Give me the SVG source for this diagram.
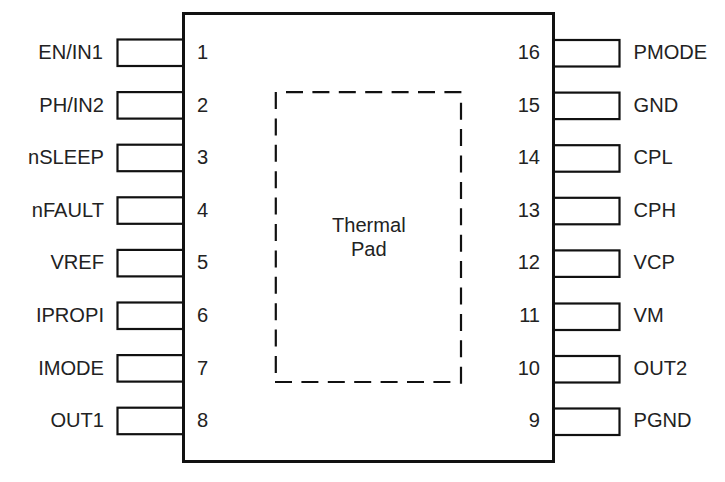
<svg xmlns="http://www.w3.org/2000/svg" width="725" height="482" viewBox="0 0 725 482">
<style>
text{font-family:"Liberation Sans",Arial,sans-serif;font-size:20.1px;fill:#222}
.p{fill:none;stroke:#111;stroke-width:2.2}
.b{fill:#fff;stroke:#111;stroke-width:3}
.d{fill:none;stroke:#111;stroke-width:2.2;stroke-dasharray:17 9.4}
.r{text-anchor:end}
.m{text-anchor:middle}
</style>
<rect width="725" height="482" fill="#fff"/>
<g id="body"><rect class="b" x="183.500" y="13.500" width="370" height="448"/></g>
<g id="pins-left">
<g id="pin1"><rect class="p" x="117.500" y="39.500" width="66" height="26.500"/><text class="r" x="103" y="59">EN/IN1</text><text class="m" x="202.500" y="59">1</text></g>
<g id="pin2"><rect class="p" x="117.500" y="92.100" width="66" height="26.500"/><text class="r" x="104" y="111.600">PH/IN2</text><text class="m" x="202.500" y="111.600">2</text></g>
<g id="pin3"><rect class="p" x="117.500" y="144.700" width="66" height="26.500"/><text class="r" x="104" y="164.200">nSLEEP</text><text class="m" x="202.500" y="164.200">3</text></g>
<g id="pin4"><rect class="p" x="117.500" y="197.300" width="66" height="26.500"/><text class="r" x="104" y="216.800">nFAULT</text><text class="m" x="202.500" y="216.800">4</text></g>
<g id="pin5"><rect class="p" x="117.500" y="249.900" width="66" height="26.500"/><text class="r" x="104" y="269.400">VREF</text><text class="m" x="202.500" y="269.400">5</text></g>
<g id="pin6"><rect class="p" x="117.500" y="302.500" width="66" height="26.500"/><text class="r" x="104" y="322">IPROPI</text><text class="m" x="202.500" y="322">6</text></g>
<g id="pin7"><rect class="p" x="117.500" y="355.100" width="66" height="26.500"/><text class="r" x="104" y="374.600">IMODE</text><text class="m" x="202.500" y="374.600">7</text></g>
<g id="pin8"><rect class="p" x="117.500" y="407.700" width="66" height="26.500"/><text class="r" x="104" y="427.200">OUT1</text><text class="m" x="202.500" y="427.200">8</text></g>
</g>
<g id="pins-right">
<g id="pin16"><rect class="p" x="553.500" y="40" width="66" height="26.500"/><text x="633.500" y="59">PMODE</text><text class="r" x="540" y="59">16</text></g>
<g id="pin15"><rect class="p" x="553.500" y="92.600" width="66" height="26.500"/><text x="633.500" y="111.600">GND</text><text class="r" x="540" y="111.600">15</text></g>
<g id="pin14"><rect class="p" x="553.500" y="145.200" width="66" height="26.500"/><text x="633.500" y="164.200">CPL</text><text class="r" x="540" y="164.200">14</text></g>
<g id="pin13"><rect class="p" x="553.500" y="197.800" width="66" height="26.500"/><text x="633.500" y="216.800">CPH</text><text class="r" x="540" y="216.800">13</text></g>
<g id="pin12"><rect class="p" x="553.500" y="250.400" width="66" height="26.500"/><text x="633.500" y="269.400">VCP</text><text class="r" x="540" y="269.400">12</text></g>
<g id="pin11"><rect class="p" x="553.500" y="303.500" width="66" height="26.500"/><text x="633.500" y="322">VM</text><text class="r" x="540" y="322">11</text></g>
<g id="pin10"><rect class="p" x="553.500" y="356" width="66" height="26.500"/><text x="633.500" y="374.600">OUT2</text><text class="r" x="540" y="374.600">10</text></g>
<g id="pin9"><rect class="p" x="553.500" y="408.500" width="66" height="26.500"/><text x="633.500" y="427.200">PGND</text><text class="r" x="540" y="427.200">9</text></g>
</g>
<g id="thermal-pad"><path class="d" d="M275.800 92V373"/><path class="d" d="M286 92.200H462"/><path class="d" d="M461 102.700V384"/><path class="d" d="M275 382H451"/><text class="m" x="368.800" y="231.500">Thermal</text><text class="m" x="368.800" y="256">Pad</text></g>
</svg>
